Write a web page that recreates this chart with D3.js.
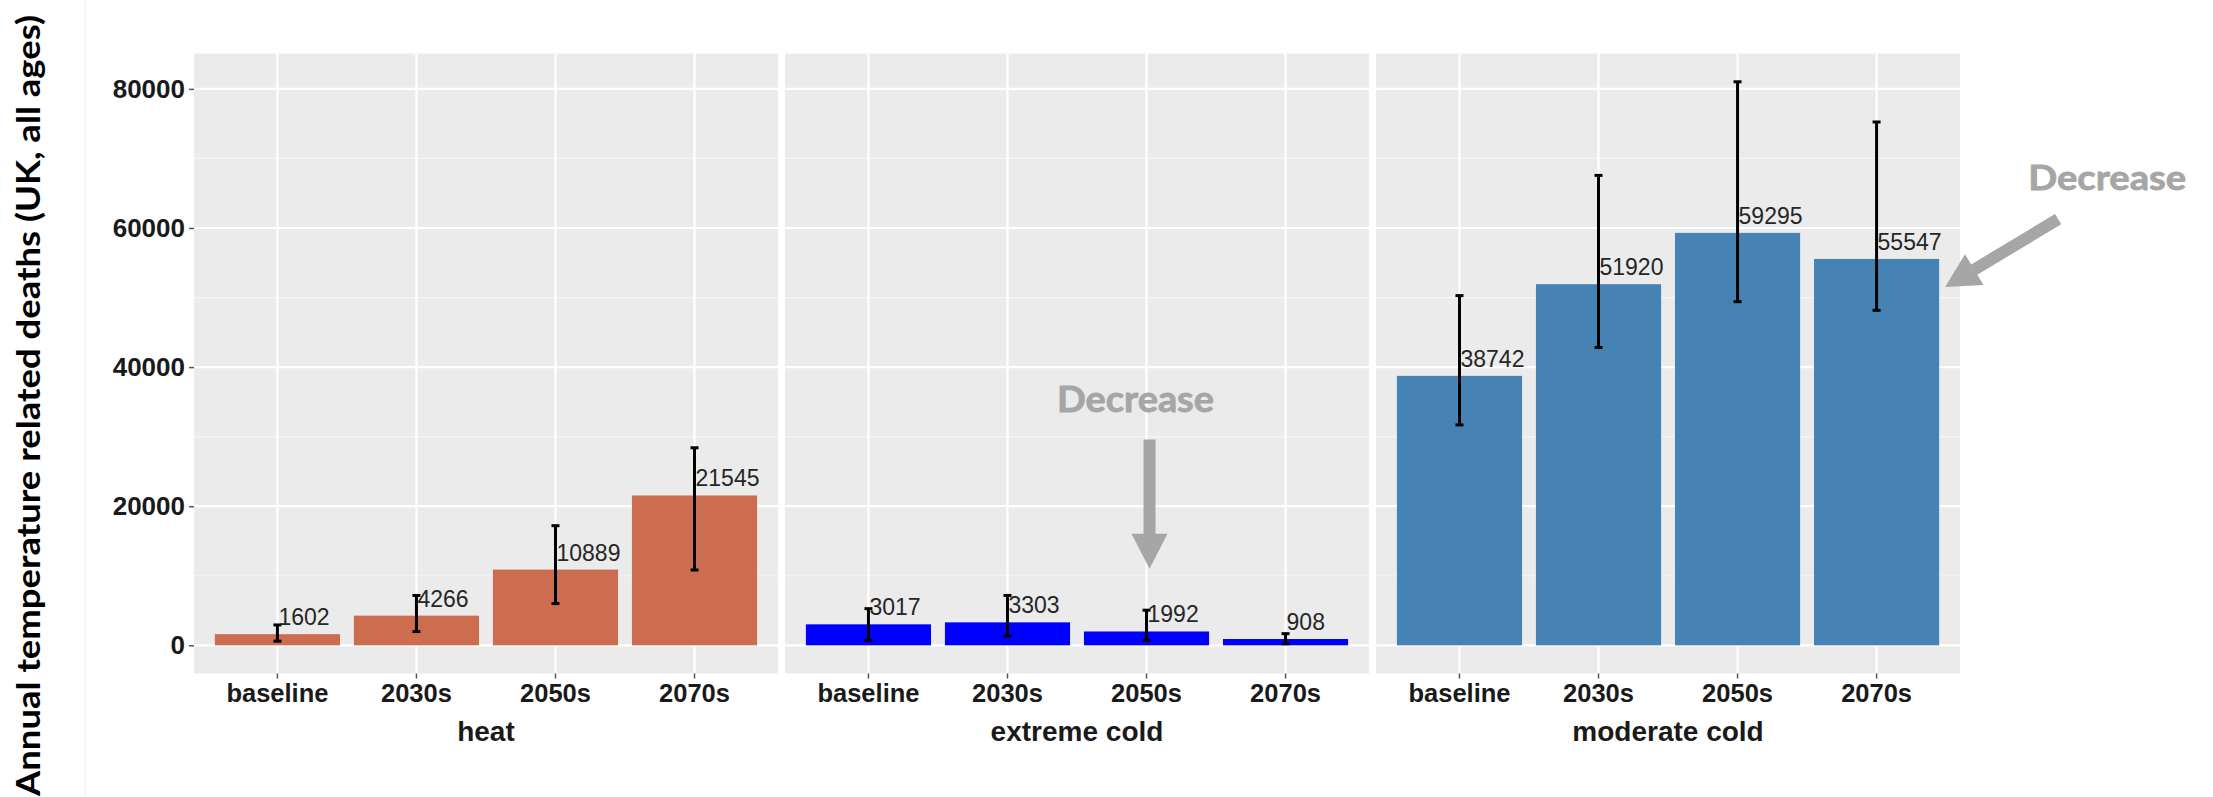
<!DOCTYPE html>
<html>
<head>
<meta charset="utf-8">
<script src="https://cdn.jsdelivr.net/npm/d3@7"></script>
<style>
  body { margin: 0; background: #ffffff; }
  svg { display: block; }
</style>
</head>
<body>
<div id="chart"></div>
<script>
// data
const facets = ['heat', 'extreme cold', 'moderate cold'];
const periods = ['baseline', '2030s', '2050s', '2070s'];
const heatDeaths = [1602, 4266, 10889, 21545];
const heatLower = [600, 1980, 6000, 10830];
const heatUpper = [2930, 7170, 17200, 28400];
const extremeColdDeaths = [3017, 3303, 1992, 908];
const extremeColdLower = [730, 1320, 730, 220];
const extremeColdUpper = [5270, 7170, 5050, 1680];
const moderateColdDeaths = [38742, 51920, 59295, 55547];
const moderateColdLower = [31690, 42820, 49410, 48160];
const moderateColdUpper = [50280, 67560, 81020, 75240];
const facetColors = ['#CD6D50', '#0000FF', '#4682B4'];
const yTicks = [0, 20000, 40000, 60000, 80000];
const yMinor = [10000, 30000, 50000, 70000];

const W = 2213;
const H = 797;
const plot = { left: 194, right: 1960, top: 53.6, bottom: 673.5 };

const series = [
  { deaths: heatDeaths, lower: heatLower, upper: heatUpper },
  { deaths: extremeColdDeaths, lower: extremeColdLower, upper: extremeColdUpper },
  { deaths: moderateColdDeaths, lower: moderateColdLower, upper: moderateColdUpper }
];

const rows = [];
facets.forEach((f, i) => {
  periods.forEach((p, j) => {
    rows.push({
      facet: f,
      period: p,
      value: series[i].deaths[j],
      lo: series[i].lower[j],
      hi: series[i].upper[j],
      color: facetColors[i]
    });
  });
});

const svg = d3
  .select('#chart')
  .append('svg')
  .attr('width', W)
  .attr('height', H)
  .style('font-family', '"Liberation Sans", Arial, sans-serif');

svg.append('rect').attr('width', W).attr('height', H).attr('fill', '#ffffff');
svg
  .append('line')
  .attr('x1', 85)
  .attr('x2', 85)
  .attr('y1', 0)
  .attr('y2', H)
  .attr('stroke', '#f3f3f3')
  .attr('stroke-width', 1.5);

// ggplot style 5% expansion
const yMax = d3.max(rows, (d) => d.hi);
const y = d3
  .scaleLinear()
  .domain([-0.05 * yMax, yMax * 1.05])
  .range([plot.bottom, plot.top]);

const fx = d3
  .scaleBand()
  .domain(facets)
  .range([plot.left, plot.right])
  .paddingInner(0.012);

const x = d3
  .scaleBand()
  .domain(periods)
  .range([0, fx.bandwidth()])
  .paddingInner(0.1)
  .paddingOuter(0.15);

const panels = svg
  .selectAll('g.panel')
  .data(facets)
  .join('g')
  .attr('class', 'panel')
  .attr('transform', (d) => `translate(${fx(d)},0)`);

panels
  .append('rect')
  .attr('x', 0)
  .attr('y', plot.top)
  .attr('width', fx.bandwidth())
  .attr('height', plot.bottom - plot.top)
  .attr('fill', '#EBEBEB');

// grid
panels.each(function () {
  const g = d3.select(this);
  g.selectAll('line.minor')
    .data(yMinor)
    .join('line')
    .attr('x1', 0)
    .attr('x2', fx.bandwidth())
    .attr('y1', (d) => y(d))
    .attr('y2', (d) => y(d))
    .attr('stroke', '#F5F5F5')
    .attr('stroke-width', 1.2);
  g.selectAll('line.major')
    .data(yTicks)
    .join('line')
    .attr('x1', 0)
    .attr('x2', fx.bandwidth())
    .attr('y1', (d) => y(d))
    .attr('y2', (d) => y(d))
    .attr('stroke', '#ffffff')
    .attr('stroke-width', 2.2);
  g.selectAll('line.vert')
    .data(periods)
    .join('line')
    .attr('x1', (d) => x(d) + x.bandwidth() / 2)
    .attr('x2', (d) => x(d) + x.bandwidth() / 2)
    .attr('y1', plot.top)
    .attr('y2', plot.bottom)
    .attr('stroke', '#ffffff')
    .attr('stroke-width', 2.2);
});

// bars
panels
  .selectAll('rect.bar')
  .data((f) => rows.filter((r) => r.facet === f))
  .join('rect')
  .attr('class', 'bar')
  .attr('x', (d) => x(d.period))
  .attr('width', x.bandwidth())
  .attr('y', (d) => y(d.value))
  .attr('height', (d) => y(0) - y(d.value))
  .attr('fill', (d) => d.color);

// error bars
const eb = panels
  .selectAll('g.err')
  .data((f) => rows.filter((r) => r.facet === f))
  .join('g')
  .attr('class', 'err')
  .attr('transform', (d) => `translate(${x(d.period) + x.bandwidth() / 2},0)`)
  .attr('stroke', '#000000')
  .attr('stroke-width', 3);

eb.append('line').attr('y1', (d) => y(d.lo)).attr('y2', (d) => y(d.hi));
eb.append('line').attr('x1', -4).attr('x2', 4).attr('y1', (d) => y(d.lo)).attr('y2', (d) => y(d.lo));
eb.append('line').attr('x1', -4).attr('x2', 4).attr('y1', (d) => y(d.hi)).attr('y2', (d) => y(d.hi));

// value labels
panels
  .selectAll('text.val')
  .data((f) => rows.filter((r) => r.facet === f))
  .join('text')
  .attr('class', 'val')
  .attr('x', (d) => x(d.period) + x.bandwidth() / 2 + 1)
  .attr('y', (d) => y(d.value) - 9)
  .attr('font-size', 23)
  .attr('fill', '#262626')
  .text((d) => d.value);

// x axes
panels.each(function () {
  const g = d3
    .select(this)
    .append('g')
    .attr('transform', `translate(0,${plot.bottom})`)
    .call(d3.axisBottom(x).tickSize(5).tickPadding(5));
  g.select('.domain').remove();
  g.selectAll('line').attr('stroke', '#555').attr('stroke-width', 1.5);
  g.selectAll('text')
    .attr('font-size', 25.5)
    .attr('font-weight', 'bold')
    .attr('fill', '#1a1a1a')
    .attr('font-family', '"Liberation Sans", Arial, sans-serif');
});

// facet labels underneath
panels
  .append('text')
  .attr('x', fx.bandwidth() / 2)
  .attr('y', 741)
  .attr('text-anchor', 'middle')
  .attr('font-size', 28)
  .attr('font-weight', 'bold')
  .attr('fill', '#1a1a1a')
  .text((d) => d);

// y axis
const ya = svg
  .append('g')
  .attr('transform', `translate(${plot.left},0)`)
  .call(
    d3.axisLeft(y).tickValues(yTicks).tickFormat(d3.format('d')).tickSize(5).tickPadding(4)
  );
ya.select('.domain').remove();
ya.selectAll('line').attr('stroke', '#555').attr('stroke-width', 1.5);
ya.selectAll('text')
  .attr('font-size', 26)
  .attr('font-weight', 'bold')
  .attr('fill', '#1a1a1a')
  .attr('font-family', '"Liberation Sans", Arial, sans-serif');

// y title
svg
  .append('text')
  .attr('transform', `translate(40,${(15 + 796) / 2}) rotate(-90)`)
  .attr('text-anchor', 'middle')
  .attr('font-family', 'Lato, "Open Sans", sans-serif')
  .attr('font-weight', 'bold')
  .attr('font-size', 33)
  .attr('fill', '#000000')
  .attr('textLength', 781)
  .attr('lengthAdjust', 'spacingAndGlyphs')
  .text('Annual temperature related deaths (UK, all ages)');

// annotations
const grey = '#A6A6A6';

function arrowPath(x0, y0, x1, y1, shaft, head, headLen) {
  const dx = x1 - x0;
  const dy = y1 - y0;
  const len = Math.hypot(dx, dy);
  const ux = dx / len;
  const uy = dy / len;
  const nx = -uy;
  const ny = ux;
  const bx = x1 - ux * headLen;
  const by = y1 - uy * headLen;
  const pts = [
    [x0 + nx * shaft / 2, y0 + ny * shaft / 2],
    [bx + nx * shaft / 2, by + ny * shaft / 2],
    [bx + nx * head / 2, by + ny * head / 2],
    [x1, y1],
    [bx - nx * head / 2, by - ny * head / 2],
    [bx - nx * shaft / 2, by - ny * shaft / 2],
    [x0 - nx * shaft / 2, y0 - ny * shaft / 2]
  ];
  return d3.line()(pts) + 'Z';
}

// extreme cold, 2050s
const ax1 = fx('extreme cold') + x('2050s') + x.bandwidth() / 2 + 3;
svg
  .append('path')
  .attr('d', arrowPath(ax1, y(29600), ax1, y(11000), 12, 36, 35))
  .attr('fill', grey);
svg
  .append('text')
  .attr('x', ax1 - 14)
  .attr('y', y(33600))
  .attr('text-anchor', 'middle')
  .attr('font-family', 'Lato, "Open Sans", sans-serif')
  .attr('font-weight', 'bold')
  .attr('font-size', 36)
  .attr('fill', grey)
  .attr('stroke', grey)
  .attr('stroke-width', 0.8)
  .attr('textLength', 157)
  .attr('lengthAdjust', 'spacingAndGlyphs')
  .text('Decrease');

// moderate cold, 2070s
const tipX = fx('moderate cold') + x('2070s') + x.bandwidth() + 6;
const tipY = y(51500);
svg
  .append('path')
  .attr('d', arrowPath(tipX + 113, tipY - 68, tipX, tipY, 12, 36, 34))
  .attr('fill', grey);
svg
  .append('text')
  .attr('x', tipX + 162)
  .attr('y', y(65400))
  .attr('text-anchor', 'middle')
  .attr('font-family', 'Lato, "Open Sans", sans-serif')
  .attr('font-weight', 'bold')
  .attr('font-size', 35)
  .attr('fill', grey)
  .attr('stroke', grey)
  .attr('stroke-width', 0.8)
  .attr('textLength', 158)
  .attr('lengthAdjust', 'spacingAndGlyphs')
  .text('Decrease');
</script>
</body>
</html>
